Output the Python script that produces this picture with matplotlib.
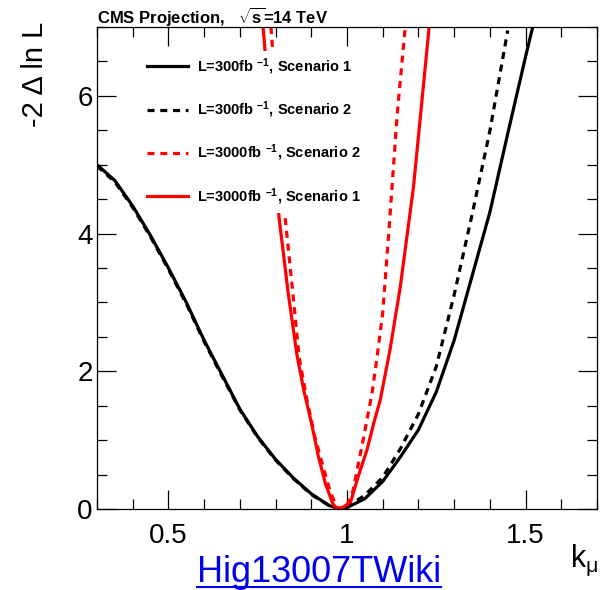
import matplotlib
matplotlib.use('Agg')
import matplotlib.pyplot as plt
from matplotlib.lines import Line2D
from matplotlib.ticker import MultipleLocator

plt.rcParams['font.family'] = ['Liberation Sans', 'DejaVu Sans']
plt.rcParams['mathtext.fontset'] = 'custom'
plt.rcParams['mathtext.rm'] = 'Liberation Sans'
plt.rcParams['mathtext.it'] = 'Liberation Sans:italic'
plt.rcParams['mathtext.bf'] = 'Liberation Sans:bold'

# L=300 fb-1, scenario 1 (black solid)
k_300_s1 = [0.30, 0.35, 0.40, 0.45, 0.50, 0.55, 0.60, 0.65, 0.70, 0.75, 0.80, 0.85, 0.90, 0.95, 0.98,
            1.00, 1.05, 1.10, 1.15, 1.20, 1.25, 1.30, 1.35, 1.40, 1.45, 1.50, 1.52]
nll_300_s1 = [5.00, 4.77, 4.40, 3.97, 3.50, 3.00, 2.45, 1.95, 1.45, 1.05, 0.72, 0.45, 0.22, 0.05, 0.00,
              0.02, 0.15, 0.40, 0.76, 1.15, 1.70, 2.45, 3.38, 4.31, 5.45, 6.57, 7.00]

# L=300 fb-1, scenario 2 (black dashed)
k_300_s2 = [0.30, 0.35, 0.40, 0.45, 0.50, 0.55, 0.60, 0.65, 0.70, 0.75, 0.80, 0.85, 0.90, 0.95, 0.98,
            1.00, 1.05, 1.10, 1.15, 1.20, 1.25, 1.30, 1.35, 1.40, 1.45]
nll_300_s2 = [4.98, 4.75, 4.38, 3.95, 3.48, 2.98, 2.43, 1.93, 1.44, 1.04, 0.71, 0.44, 0.21, 0.05, 0.00,
              0.03, 0.20, 0.46, 0.88, 1.38, 2.07, 3.11, 4.27, 5.49, 6.95]

# L=3000 fb-1, scenario 2 (red dashed)
k_3000_s2 = [0.787, 0.80, 0.827, 0.85, 0.866, 0.888, 0.91, 0.933, 0.955, 0.975,
             1.00, 1.017, 1.045, 1.07, 1.084, 1.10, 1.12, 1.14, 1.163]
nll_3000_s2 = [7.00, 6.10, 4.22, 3.05, 2.20, 1.58, 1.05, 0.61, 0.22, 0.00,
               0.05, 0.27, 1.00, 1.68, 2.20, 2.85, 4.23, 5.70, 7.00]

# L=3000 fb-1, scenario 1 (red solid)
k_3000_s1 = [0.765, 0.78, 0.81, 0.835, 0.86, 0.88, 0.90, 0.92, 0.94, 0.96, 0.972,
             0.99, 1.01, 1.03, 1.056, 1.075, 1.093, 1.12, 1.149, 1.186, 1.21, 1.23]
nll_3000_s1 = [7.00, 6.05, 4.22, 3.15, 2.23, 1.70, 1.26, 0.76, 0.36, 0.08, 0.00,
               0.03, 0.10, 0.45, 0.86, 1.25, 1.58, 2.30, 3.22, 4.67, 5.94, 7.00]

labels = [r'L=300fb $^{\mathbf{-1}}$, Scenario 1',
          r'L=300fb $^{\mathbf{-1}}$, Scenario 2',
          r'L=3000fb $^{\mathbf{-1}}$, Scenario 2',
          r'L=3000fb $^{\mathbf{-1}}$, Scenario 1']

fig = plt.figure(figsize=(6, 5.9), dpi=100)
ax = fig.add_axes([0.1617, 0.1373, 0.8333, 0.8169])

lw = 2.3
l1, = ax.plot(k_300_s1, nll_300_s1, color='black', lw=lw, label=labels[0])
l2, = ax.plot(k_300_s2, nll_300_s2, color='black', lw=lw, ls=(0, (2.2, 1.8)), label=labels[1])
l3, = ax.plot(k_3000_s2, nll_3000_s2, color='red', lw=lw, ls=(0, (2.2, 1.8)), label=labels[2])
l4, = ax.plot(k_3000_s1, nll_3000_s1, color='red', lw=lw, label=labels[3])

ax.set_xlim(0.3, 1.7)
ax.set_ylim(0, 7)
ax.xaxis.set_major_locator(MultipleLocator(0.5))
ax.xaxis.set_minor_locator(MultipleLocator(0.1))
ax.yaxis.set_major_locator(MultipleLocator(2))
ax.yaxis.set_minor_locator(MultipleLocator(0.5))
ax.xaxis.set_major_formatter(plt.FuncFormatter(lambda v, p: '%g' % v))
ax.tick_params(which='both', direction='in', top=True, right=True, width=0.9, labelsize=20)
ax.tick_params(which='major', length=14)
ax.tick_params(which='minor', length=7)
ax.tick_params(axis='x', pad=10)
ax.tick_params(axis='y', pad=3)
for sp in ax.spines.values():
    sp.set_linewidth(0.9)

leg = ax.legend(handles=[l1, l2, l3, l4], loc='upper left', bbox_to_anchor=(0.089, 0.951),
                borderaxespad=0, borderpad=0.4, handlelength=2.8, handletextpad=0.6,
                labelspacing=1.55, prop={'weight': 'bold', 'size': 10.5},
                frameon=True, fancybox=False, framealpha=1)
leg.get_frame().set_facecolor('white')
leg.get_frame().set_edgecolor('none')

fig.text(0.1617, 1 - 17 / 590, r'CMS Projection,   $\sqrt{\mathbf{s}}$=14 TeV',
         fontsize=12, fontweight='bold', ha='left', va='center')
fig.text(35 / 600, 1 - 22 / 590, u'-2 \u0394 ln L', fontsize=21, rotation=90, ha='center', va='top')
fig.text(0.997, 1 - 567 / 590, r'k$_{\mathrm{\mu}}$', fontsize=22, ha='right', va='baseline')

link = fig.text(197 / 600, 1 - 582 / 590, 'Hig13007TWiki', fontsize=26, color='#0000ee',
                ha='left', va='baseline')
fig.canvas.draw()
bb = link.get_window_extent().transformed(fig.transFigure.inverted())
uy = 1 - 587 / 590
fig.add_artist(Line2D([bb.x0, bb.x1], [uy, uy], color='#0000ee', lw=1.5))

fig.savefig('out.png', dpi=100)
